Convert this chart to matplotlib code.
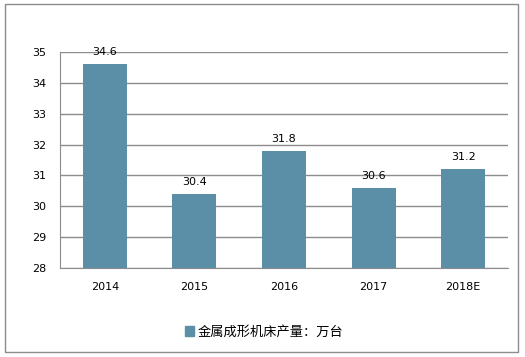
import matplotlib
matplotlib.use("Agg")
import matplotlib.pyplot as plt
from matplotlib.patches import Rectangle

plt.rcParams['font.family'] = ['DejaVu Sans', 'Noto Sans CJK SC']

categories = ["2014", "2015", "2016", "2017", "2018E"]
values = [34.6, 30.4, 31.8, 30.6, 31.2]
yticks = [28, 29, 30, 31, 32, 33, 34, 35]
legend_label = "金属成形机床产量：万台"

bar_color = "#5B8FA8"
grid_color = "#8C8C8C"

fig = plt.figure(figsize=(5.25, 3.57), dpi=100)
ax = fig.add_axes([60/525, 1-268/357, 448/525, 216/357])

x = list(range(len(categories)))
ax.bar(x, values, width=0.49, color=bar_color, zorder=3, label=legend_label)
ax.set_ylim(28, 35)
ax.set_xlim(-0.5, len(categories) - 0.5)
ax.set_yticks(yticks)
ax.set_xticks(x)
ax.set_xticklabels(categories)
ax.yaxis.grid(True, color=grid_color, linewidth=1, zorder=0)
for s in ["top", "right"]:
    ax.spines[s].set_visible(False)
ax.spines["left"].set_color(grid_color)
ax.spines["bottom"].set_color(grid_color)
ax.tick_params(axis="both", length=0, labelsize=8, colors="black")
ax.tick_params(axis="y", pad=10)
ax.tick_params(axis="x", pad=10)

for xi, v in zip(x, values):
    ax.annotate(f"{v}", (xi, v), xytext=(0, 5), textcoords="offset points",
                ha="center", va="bottom", fontsize=8)

fig.legend(handles=[Rectangle((0, 0), 1, 1, color=bar_color)], labels=[legend_label],
           loc="center", bbox_to_anchor=(264/525, 1-332/357), frameon=False,
           prop={'family': ['Noto Sans CJK SC', 'DejaVu Sans'], 'size': 9.5},
           handlelength=0.7, handleheight=0.7, handletextpad=0.3)

fig.add_artist(Rectangle((5/525, 1-352/357), 513/525, 348/357, transform=fig.transFigure,
                         fill=False, edgecolor=grid_color, linewidth=1))

fig.savefig("out.png", dpi=100)
